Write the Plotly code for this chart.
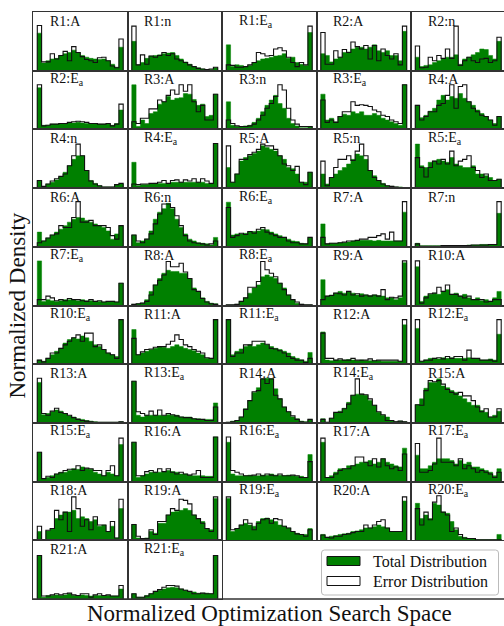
import numpy as np
import plotly.graph_objects as go

# ---------------- data (heights as % of panel height, 20 bins on [0,1]) ----------------
R1_A_total = [64,13,17,20,21,26,29,31,35,31,26,23,21,20,19,20,17,11,6,40]
R1_A_error = [77,15,15,29,20,26,33,17,41,31,24,19,17,14,22,23,17,8,5,54]
R1_n_total = [50,10,14,21,25,26,27,29,30,31,26,20,15,11,7,5,3,2,2,5]
R1_n_error = [76,10,27,11,25,23,26,31,26,29,20,17,14,10,7,4,3,2,3,6]
R1_Ea_total = [44,7,10,9,7,9,14,17,20,21,23,25,26,29,21,23,14,11,9,65]
R1_Ea_error = [10,9,6,6,7,10,14,31,29,25,26,37,39,34,23,14,7,14,10,76]
R2_A_total = [29,26,15,20,23,31,32,37,40,40,37,40,44,34,31,34,26,26,17,67]
R2_A_error = [65,11,11,34,23,36,31,49,41,37,43,20,43,17,37,26,20,29,10,76]
R2_n_total = [23,7,9,10,14,17,20,23,23,27,11,20,23,27,31,37,36,26,20,50]
R2_n_error = [42,5,6,23,17,26,21,37,21,76,9,17,23,17,14,20,21,14,17,57]
R2_Ea_total = [71,7,7,9,9,10,10,11,11,12,11,10,10,9,9,9,9,7,10,33]
R2_Ea_error = [76,6,7,9,9,10,10,12,13,14,13,12,10,10,9,9,10,6,9,43]
R3_A_total = [76,5,16,10,27,30,43,47,56,50,53,54,61,60,51,41,43,22,24,60]
R3_A_error = [13,10,19,19,35,35,50,47,58,67,60,76,65,76,47,30,41,16,16,60]
R3_n_total = [47,7,5,5,6,7,12,19,30,41,50,58,44,36,19,10,6,3,3,5]
R3_n_error = [16,10,6,5,5,6,9,16,24,36,44,56,76,67,36,16,9,5,5,5]
R3_Ea_total = [60,16,19,13,22,26,24,30,27,30,24,24,27,24,19,16,13,10,7,76]
R3_Ea_error = [50,12,16,12,22,30,30,47,41,42,41,39,33,30,24,22,16,13,10,76]
R4_A_total = [41,20,24,31,36,50,58,50,56,53,61,53,47,41,33,27,22,16,10,22]
R4_A_error = [41,16,22,30,30,41,44,58,76,36,73,76,47,36,30,24,22,16,7,22]
R4_n_total = [13,2,7,10,14,19,27,38,49,55,55,30,13,8,4,2,2,2,6,7]
R4_n_error = [13,3,7,12,16,20,24,38,55,75,55,30,12,7,4,2,2,2,6,8]
R4_Ea_total = [44,4,6,6,7,8,8,8,8,10,10,10,10,10,10,10,10,8,7,76]
R4_Ea_error = [7,6,7,7,8,8,10,13,8,13,14,10,14,12,16,10,16,12,8,76]
R5_A_total = [35,10,24,46,52,55,59,63,72,69,66,63,55,49,35,33,24,10,10,27]
R5_A_error = [72,10,24,49,49,57,61,66,75,72,72,66,55,41,38,30,37,10,6,27]
R5_n_total = [24,7,17,24,30,35,41,49,58,55,49,30,21,13,8,4,3,2,2,1]
R5_n_error = [46,4,18,35,49,49,55,47,63,75,55,30,18,13,7,4,3,2,1,1]
R5_Ea_total = [75,38,35,44,46,49,46,44,52,41,38,35,35,38,24,24,21,18,13,15]
R5_Ea_error = [52,35,19,35,46,41,49,41,63,38,46,49,55,35,30,18,24,13,13,15]
R6_A_total = [25,10,15,20,25,30,36,42,47,50,49,45,42,39,36,33,27,13,22,36]
R6_A_error = [7,10,15,20,22,36,33,33,50,77,42,42,45,36,36,36,33,19,13,36]
R6_n_total = [20,7,10,13,27,47,59,65,74,65,47,33,22,13,10,7,6,5,3,16]
R6_n_error = [20,10,7,13,22,39,56,73,73,67,53,36,19,10,7,6,5,3,5,10]
R6_Ea_total = [76,20,22,22,23,25,26,27,30,29,25,22,19,16,13,10,9,6,5,16]
R6_Ea_error = [67,16,19,23,21,26,23,30,33,25,22,19,16,16,10,7,7,5,5,16]
R7_A_total = [39,5,6,6,7,7,8,10,10,11,11,11,10,11,10,10,10,10,10,59]
R7_A_error = [16,5,6,6,7,8,10,10,11,13,13,16,16,19,22,13,25,10,10,77]
R7_n_total = [6,2,2,2,2,2,2,2,2,2,2,2,3,3,3,4,4,4,4,57]
R7_n_error = [5,1,1,1,1,1,2,2,2,2,2,2,2,3,3,3,3,4,4,77]
R7_Ea_total = [76,7,10,8,7,8,10,10,10,8,10,8,8,7,7,6,6,7,6,38]
R7_Ea_error = [10,10,16,13,8,10,8,12,10,10,8,7,10,7,8,6,7,7,6,38]
R8_A_total = [2,3,4,10,24,35,46,55,60,58,58,55,55,46,30,24,13,7,4,3]
R8_A_error = [2,3,4,7,18,35,43,52,75,66,66,72,57,46,27,24,12,6,3,2]
R8_Ea_total = [1,1,2,7,13,21,30,35,49,52,49,46,38,30,18,10,4,2,1,1]
R8_Ea_error = [1,1,2,7,13,31,31,41,75,61,55,49,38,27,18,10,6,2,1,1]
R9_A_total = [44,16,18,21,24,21,24,21,18,20,18,17,18,17,16,13,13,10,13,73]
R9_A_error = [10,16,17,21,20,18,24,18,20,16,18,16,18,16,27,10,14,13,16,76]
R10_A_total = [66,7,16,19,21,19,24,27,19,21,16,19,13,10,13,8,10,7,13,24]
R10_A_error = [76,4,13,20,21,31,24,35,19,19,16,13,16,10,10,10,6,7,10,10]
R10_Ea_total = [7,5,10,16,22,27,36,42,45,43,48,45,39,33,30,25,19,16,13,76]
R10_Ea_error = [7,4,10,19,19,27,33,39,45,50,39,53,53,30,33,25,19,16,10,76]
R11_A_total = [59,16,19,22,25,27,30,29,27,30,33,30,27,25,23,19,16,10,10,76]
R11_A_error = [44,16,21,25,26,29,30,30,34,39,50,42,33,30,25,22,19,11,10,76]
R11_Ea_total = [76,16,22,26,30,33,30,33,36,33,30,27,25,22,19,13,10,7,5,20]
R11_Ea_error = [76,13,19,19,33,33,39,39,39,34,27,26,23,19,13,10,7,7,3,10]
R12_A_total = [55,7,6,7,7,7,8,7,6,7,6,6,6,6,5,5,5,5,5,67]
R12_A_error = [53,10,10,7,9,7,7,10,7,7,7,9,6,7,7,7,7,7,5,76]
R12_Ea_total = [61,5,7,10,10,9,11,10,11,10,10,10,11,10,9,7,7,9,7,51]
R12_Ea_error = [76,5,7,7,10,11,9,13,10,13,13,7,24,10,10,7,7,7,5,76]
R13_A_total = [69,14,16,19,22,20,16,12,10,7,6,4,3,2,1,1,1,1,1,2]
R13_A_error = [76,16,13,20,25,18,16,13,9,6,4,3,2,1,1,1,1,1,1,2]
R13_Ea_total = [71,13,10,13,13,13,13,12,14,13,13,10,10,10,7,7,6,6,6,34]
R13_Ea_error = [71,19,16,13,20,13,22,13,16,14,12,10,9,9,7,6,6,4,4,27]
R14_A_total = [1,3,4,10,24,38,52,60,75,76,75,58,41,27,19,10,7,3,2,6]
R14_A_error = [1,2,4,10,23,38,53,55,75,67,75,47,41,27,19,12,6,2,1,6]
R14_Ea_total = [7,1,8,17,20,25,35,47,49,49,47,38,30,18,13,10,4,2,3,2]
R14_Ea_error = [6,1,8,18,18,24,32,47,75,49,48,41,30,19,14,4,4,2,3,2]
R15_A_total = [31,41,59,69,69,75,63,60,55,52,46,41,35,30,30,21,18,10,13,20]
R15_A_error = [31,30,55,72,70,72,66,57,52,49,52,46,46,38,27,19,24,10,10,24]
R15_Ea_total = [50,5,7,10,13,16,16,19,22,21,25,22,21,16,13,10,16,13,10,63]
R15_Ea_error = [50,5,9,7,13,15,19,21,21,27,19,23,22,19,19,10,19,27,10,74]
R16_A_total = [67,7,10,13,16,16,16,17,19,17,16,13,13,11,10,10,10,9,9,76]
R16_A_error = [67,10,10,17,19,16,22,17,22,16,13,16,13,11,13,19,7,7,7,76]
R16_Ea_total = [67,13,10,10,10,11,10,10,11,11,13,11,11,10,11,10,9,9,7,46]
R16_Ea_error = [76,19,16,13,10,10,11,13,10,13,11,10,13,10,10,11,10,7,7,34]
R17_A_total = [67,7,10,16,22,22,27,27,30,33,33,36,30,33,39,33,30,27,25,57]
R17_A_error = [74,7,7,13,19,22,22,27,42,42,33,27,39,25,39,27,22,25,19,47]
R17_Ea_total = [45,22,22,27,33,39,39,39,36,30,36,30,33,25,25,22,19,16,10,22]
R17_Ea_error = [65,16,16,19,30,74,33,33,33,27,39,22,27,22,16,19,16,13,7,16]
R18_A_total = [15,1,16,20,37,43,48,48,51,37,40,37,32,35,24,26,15,24,4,54]
R18_A_error = [24,1,17,20,51,35,48,15,74,54,24,35,18,40,26,26,15,32,4,70]
R19_A_total = [27,4,1,4,15,12,29,29,43,48,49,51,54,51,43,37,32,20,18,71]
R19_A_error = [27,7,3,3,18,10,32,32,43,54,51,70,68,62,43,37,29,20,15,74]
R19_Ea_total = [71,15,20,26,29,26,24,32,37,38,35,32,26,24,21,15,12,10,10,20]
R19_Ea_error = [74,18,20,26,35,29,18,29,35,37,29,37,35,24,21,15,11,10,7,18]
R20_A_total = [10,5,7,8,10,11,12,15,16,18,21,21,23,26,23,21,15,15,15,67]
R20_A_error = [9,5,4,7,7,10,11,13,15,15,26,21,26,32,35,21,15,15,15,74]
R20_Ea_total = [63,37,43,37,63,60,48,46,32,18,7,5,3,3,1,1,1,1,1,10]
R20_Ea_error = [54,26,48,35,65,76,48,43,15,21,10,4,3,3,1,1,1,1,1,1]
R21_A_total = [74,3,6,6,7,6,7,9,6,6,7,6,5,6,6,5,6,5,5,17]
R21_A_error = [74,5,5,7,9,7,9,10,7,6,9,9,3,7,9,6,7,5,5,23]
R21_Ea_total = [9,3,3,6,9,12,15,17,19,20,19,17,15,12,12,10,10,10,9,74]
R21_Ea_error = [9,3,3,5,9,13,16,20,23,23,22,17,15,13,9,9,10,9,9,74]

panel_labels = ["R1:A", "R1:n", "R1:E<sub>a</sub>", "R2:A", "R2:n", "R2:E<sub>a</sub>",
                "R3:A", "R3:n", "R3:E<sub>a</sub>", "R4:A", "R4:n", "R4:E<sub>a</sub>",
                "R5:A", "R5:n", "R5:E<sub>a</sub>", "R6:A", "R6:n", "R6:E<sub>a</sub>",
                "R7:A", "R7:n", "R7:E<sub>a</sub>", "R8:A", "R8:E<sub>a</sub>", "R9:A",
                "R10:A", "R10:E<sub>a</sub>", "R11:A", "R11:E<sub>a</sub>", "R12:A",
                "R12:E<sub>a</sub>", "R13:A", "R13:E<sub>a</sub>", "R14:A", "R14:E<sub>a</sub>",
                "R15:A", "R15:E<sub>a</sub>", "R16:A", "R16:E<sub>a</sub>", "R17:A",
                "R17:E<sub>a</sub>", "R18:A", "R19:A", "R19:E<sub>a</sub>", "R20:A",
                "R20:E<sub>a</sub>", "R21:A", "R21:E<sub>a</sub>"]
panel_total = [R1_A_total, R1_n_total, R1_Ea_total, R2_A_total, R2_n_total, R2_Ea_total,
               R3_A_total, R3_n_total, R3_Ea_total, R4_A_total, R4_n_total, R4_Ea_total,
               R5_A_total, R5_n_total, R5_Ea_total, R6_A_total, R6_n_total, R6_Ea_total,
               R7_A_total, R7_n_total, R7_Ea_total, R8_A_total, R8_Ea_total, R9_A_total,
               R10_A_total, R10_Ea_total, R11_A_total, R11_Ea_total, R12_A_total,
               R12_Ea_total, R13_A_total, R13_Ea_total, R14_A_total, R14_Ea_total,
               R15_A_total, R15_Ea_total, R16_A_total, R16_Ea_total, R17_A_total,
               R17_Ea_total, R18_A_total, R19_A_total, R19_Ea_total, R20_A_total,
               R20_Ea_total, R21_A_total, R21_Ea_total]
panel_error = [R1_A_error, R1_n_error, R1_Ea_error, R2_A_error, R2_n_error, R2_Ea_error,
               R3_A_error, R3_n_error, R3_Ea_error, R4_A_error, R4_n_error, R4_Ea_error,
               R5_A_error, R5_n_error, R5_Ea_error, R6_A_error, R6_n_error, R6_Ea_error,
               R7_A_error, R7_n_error, R7_Ea_error, R8_A_error, R8_Ea_error, R9_A_error,
               R10_A_error, R10_Ea_error, R11_A_error, R11_Ea_error, R12_A_error,
               R12_Ea_error, R13_A_error, R13_Ea_error, R14_A_error, R14_Ea_error,
               R15_A_error, R15_Ea_error, R16_A_error, R16_Ea_error, R17_A_error,
               R17_Ea_error, R18_A_error, R19_A_error, R19_Ea_error, R20_A_error,
               R20_Ea_error, R21_A_error, R21_Ea_error]

legend_labels = ["Total Distribution", "Error Distribution"]
x_label = "Normalized Optimization Search Space"
y_label = "Normalized Density"

# ---------------- layout geometry ----------------
W, H = 504, 626
NCOLS, NROWS = 5, 10
GRID_L, GRID_T = 33.0, 12.0
CELL_W, CELL_H = 94.5, 58.7
FONT = "Liberation Serif"
FRAME = "#333333"
GREEN = "#008000"
INK = "#111111"

def px(x):
    return x / W

def py(y):
    return 1 - y / H

n_bins = len(R1_A_total)
edges = np.linspace(0, 1, n_bins + 1)
step_x = [edges[0]] + list(edges[:-1]) + [edges[-1]]

fig = go.Figure()
layout_axes = {}
annotations = []

for i, (lab, tot, err) in enumerate(zip(panel_labels, panel_total, panel_error)):
    r, c = divmod(i, NCOLS)
    x0 = GRID_L + c * CELL_W
    x1 = min(x0 + CELL_W, W)
    y0 = GRID_T + r * CELL_H
    y1 = y0 + CELL_H
    k = "" if i == 0 else str(i + 1)
    xr_span = 1.1 * (x1 - x0) / CELL_W
    layout_axes["xaxis" + k] = dict(
        domain=[px(x0), px(x1)], range=[-0.05, -0.05 + xr_span], anchor="y" + k,
        showline=True, mirror=True, linecolor=FRAME, linewidth=1.3,
        showticklabels=False, ticks="", showgrid=False, zeroline=False, fixedrange=True)
    layout_axes["yaxis" + k] = dict(
        domain=[py(y1), py(y0)], range=[0, 100], anchor="x" + k,
        showline=True, mirror=(c < NCOLS - 1), linecolor=FRAME, linewidth=1.3,
        showticklabels=False, ticks="", showgrid=False, zeroline=False, fixedrange=True)
    # total distribution: step-filled green
    fig.add_trace(go.Scatter(x=step_x, y=[0] + list(tot) + [0], mode="lines", fill="toself",
                             fillcolor=GREEN, line=dict(color=GREEN, width=0.5, shape="hv"),
                             xaxis="x" + k, yaxis="y" + k, showlegend=False, hoverinfo="skip"))
    # error distribution: black step outline
    fig.add_trace(go.Scatter(x=step_x, y=[0] + list(err) + [0], mode="lines",
                             line=dict(color=INK, width=1.1, shape="hv"),
                             xaxis="x" + k, yaxis="y" + k, showlegend=False, hoverinfo="skip"))
    annotations.append(dict(text=lab, x=px(x0 + 14.5), y=py(y0 + 9), xref="paper", yref="paper",
                            xanchor="left", yanchor="middle", showarrow=False,
                            font=dict(family=FONT, size=14, color=INK)))

# axis titles
annotations.append(dict(text=x_label, x=px(GRID_L + 2.5 * CELL_W), y=py(613), xref="paper", yref="paper",
                        xanchor="center", yanchor="middle", showarrow=False,
                        font=dict(family=FONT, size=23, color=INK)))
annotations.append(dict(text=y_label, x=px(17), y=py(GRID_T + 5 * CELL_H), xref="paper", yref="paper",
                        xanchor="center", yanchor="middle", showarrow=False, textangle=-90,
                        font=dict(family=FONT, size=23, color=INK)))

shapes = []
bottom_y = GRID_T + NROWS * CELL_H
shapes.append(dict(type="line", xref="paper", yref="paper", x0=px(GRID_L), x1=1, y0=py(bottom_y), y1=py(bottom_y),
                   line=dict(color=FRAME, width=1.3)))

# legend box (manual)
lx0, lx1, ly0, ly1 = 321.5, 498.5, 550, 595
rx, ry = 3 / W, 3 / H
path = (f"M {px(lx0)+rx},{py(ly0)} L {px(lx1)-rx},{py(ly0)} Q {px(lx1)},{py(ly0)} {px(lx1)},{py(ly0)-ry} "
        f"L {px(lx1)},{py(ly1)+ry} Q {px(lx1)},{py(ly1)} {px(lx1)-rx},{py(ly1)} "
        f"L {px(lx0)+rx},{py(ly1)} Q {px(lx0)},{py(ly1)} {px(lx0)},{py(ly1)+ry} "
        f"L {px(lx0)},{py(ly0)-ry} Q {px(lx0)},{py(ly0)} {px(lx0)+rx},{py(ly0)} Z")
shapes.append(dict(type="path", path=path, xref="paper", yref="paper", fillcolor="white",
                   line=dict(color="#bbbbbb", width=1)))
patch_styles = [(GREEN, 556.5, 565.5), ("white", 576.5, 585.5)]
for (fc, t, b), lab in zip(patch_styles, legend_labels):
    shapes.append(dict(type="rect", xref="paper", yref="paper", x0=px(327), x1=px(360), y0=py(b), y1=py(t),
                       fillcolor=fc, line=dict(color=INK, width=1)))
    annotations.append(dict(text=lab, x=px(370.5), y=py((t + b) / 2), xref="paper", yref="paper",
                            xanchor="left", yanchor="middle", showarrow=False,
                            font=dict(family=FONT, size=16, color=INK)))

fig.update_layout(width=W, height=H, margin=dict(l=0, r=0, t=0, b=0),
                  paper_bgcolor="white", plot_bgcolor="white", showlegend=False,
                  annotations=annotations, shapes=shapes, **layout_axes)
fig.write_html("out.html", config={"displayModeBar": False})
